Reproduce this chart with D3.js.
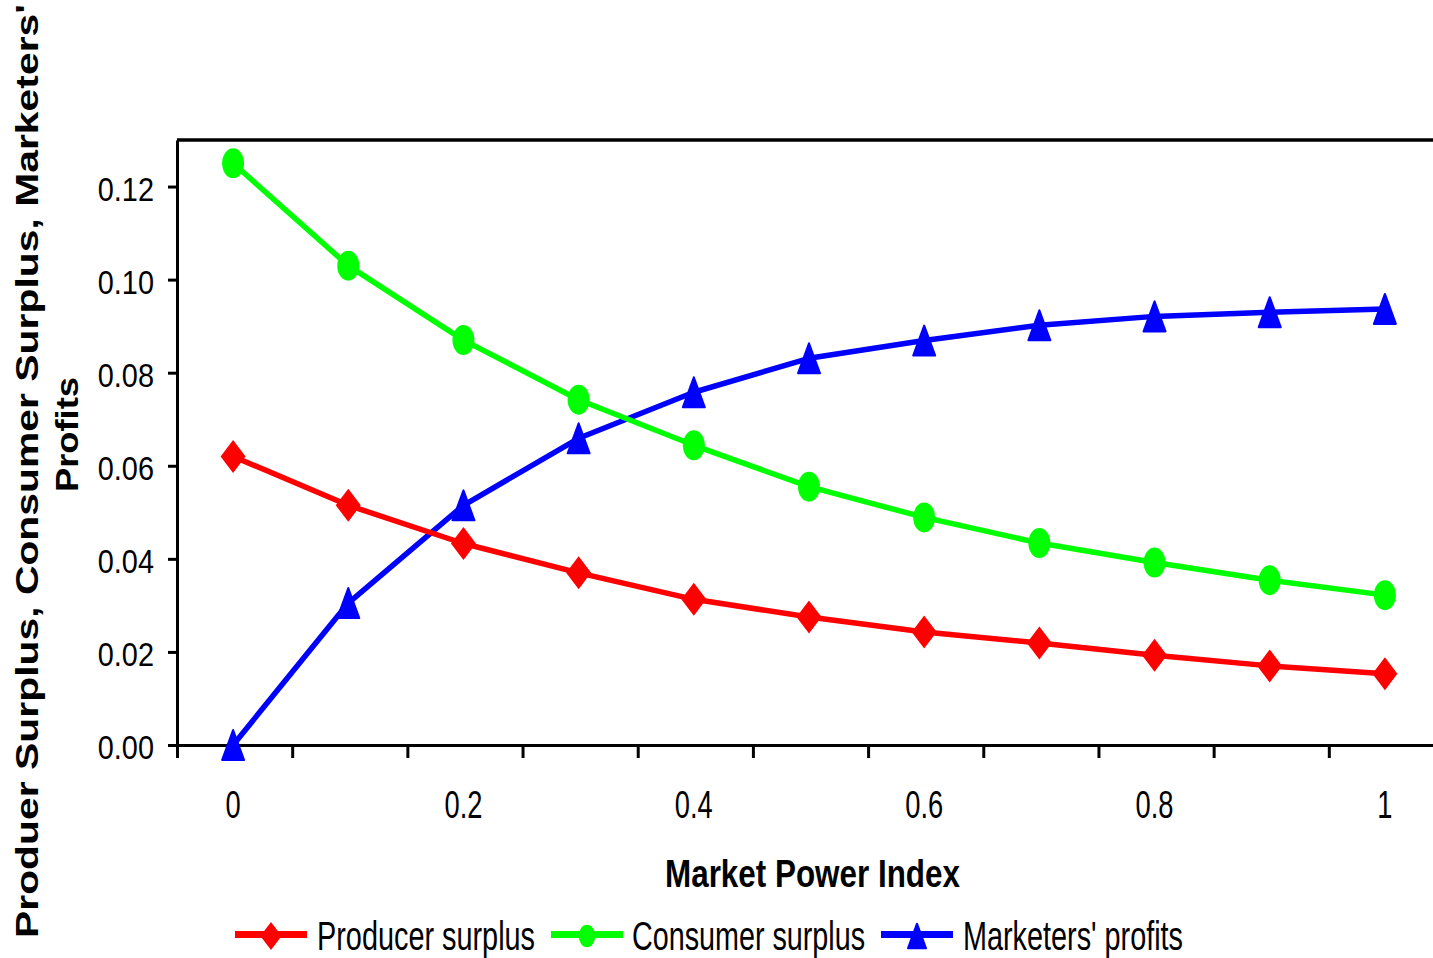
<!DOCTYPE html>
<html>
<head>
<meta charset="utf-8">
<script src="https://cdn.jsdelivr.net/npm/d3@7"></script>
<style>
  body { margin: 0; background: #fff; }
  svg { display: block; }
  text { font-family: "Liberation Sans", Arial, sans-serif; fill: #000; }
</style>
</head>
<body>
<svg id="chart" width="1433" height="958"></svg>
<script>
// Market power index categories (x axis) and the labels shown under the axis
const categories = ["0", "0.1", "0.2", "0.3", "0.4", "0.5", "0.6", "0.7", "0.8", "0.9", "1"];
const xTickLabels = ["0", "0.2", "0.4", "0.6", "0.8", "1"];
const yTicks = [0, 0.02, 0.04, 0.06, 0.08, 0.10, 0.12];

// Welfare measures for each market power index value
const producerSurplus  = [0.0620, 0.0515, 0.0433, 0.0370, 0.0313, 0.0275, 0.0243, 0.0219, 0.0193, 0.0170, 0.0153];
const consumerSurplus  = [0.1250, 0.1030, 0.0870, 0.0742, 0.0644, 0.0555, 0.0489, 0.0434, 0.0392, 0.0354, 0.0322];
const marketersProfits = [0.0000, 0.0305, 0.0515, 0.0659, 0.0758, 0.0831, 0.0869, 0.0902, 0.0921, 0.0930, 0.0937];

const seriesNames = ["Producer surplus", "Consumer surplus", "Marketers' profits"];

(function () {
  const svg = d3.select("#chart");
  svg.append("rect").attr("width", 1433).attr("height", 958).attr("fill", "#fff");

  const plotLeft = 177, plotRight = 1444, plotTop = 140, plotBottom = 745;

  const x = d3.scaleBand().domain(categories).range([plotLeft, plotRight]);
  const cx = c => x(c) + x.bandwidth() / 2 - 1.5;
  const xEdges = d3.scaleLinear().domain([0, categories.length]).range([plotLeft, plotRight]);
  const y = d3.scaleLinear().domain([0, 0.13]).range([plotBottom, plotTop]);

  // Top frame line of the plot area
  svg.append("line")
    .attr("x1", plotLeft).attr("x2", plotRight)
    .attr("y1", y(0.13)).attr("y2", y(0.13))
    .attr("stroke", "#000").attr("stroke-width", 3.5);

  // Y axis
  const yAxis = svg.append("g")
    .attr("transform", `translate(${plotLeft},0)`)
    .call(d3.axisLeft(y).tickValues(yTicks).tickSize(9).tickSizeOuter(0).tickFormat(""));
  yAxis.selectAll("path, line").attr("stroke", "#000").attr("stroke-width", 3);

  // X axis: tick marks sit on the category boundaries
  const xAxis = svg.append("g")
    .attr("transform", `translate(0,${plotBottom})`)
    .call(d3.axisBottom(xEdges).tickValues(d3.range(categories.length + 1)).tickSize(13).tickSizeOuter(0).tickFormat(""));
  xAxis.selectAll("path, line").attr("stroke", "#000").attr("stroke-width", 3);

  // Tick labels (narrow face)
  svg.append("g").selectAll("text")
    .data(yTicks).join("text")
    .attr("transform", d => `translate(154,${y(d) + 14}) scale(0.85,1)`)
    .attr("text-anchor", "end")
    .attr("font-size", 34)
    .text(d => d3.format(".2f")(d));

  svg.append("g").selectAll("text")
    .data(xTickLabels).join("text")
    .attr("transform", d => `translate(${cx(d)},818) scale(0.7,1)`)
    .attr("text-anchor", "middle")
    .attr("font-size", 39)
    .text(d => d);

  // Axis titles
  svg.append("text")
    .attr("x", 665).attr("y", 887)
    .attr("font-size", 38).attr("font-weight", "bold")
    .attr("textLength", 295).attr("lengthAdjust", "spacingAndGlyphs")
    .text("Market Power Index");

  svg.append("text")
    .attr("transform", "translate(38,938) rotate(-90)")
    .attr("font-size", 31.5).attr("font-weight", "bold")
    .attr("textLength", 934).attr("lengthAdjust", "spacingAndGlyphs")
    .text("Produer Surplus, Consumer Surplus, Marketers'");

  svg.append("text")
    .attr("transform", "translate(78,492) rotate(-90)")
    .attr("font-size", 31.5).attr("font-weight", "bold")
    .attr("textLength", 115).attr("lengthAdjust", "spacingAndGlyphs")
    .text("Profits");

  // Marker shapes
  const diamond = (w, h) => `M0,${-h}L${w},0L0,${h}L${-w},0Z`;
  const triangle = (w, h) => `M0,${-h}L${w},${h}L${-w},${h}Z`;

  function drawMarker(g, kind, color, scale) {
    const s = scale || 1;
    if (kind === "diamond") {
      g.append("path").attr("d", diamond(12.5 * s, 16.5 * s)).attr("fill", color);
    } else if (kind === "circle") {
      g.append("ellipse").attr("rx", 11 * s).attr("ry", 15 * s).attr("fill", color);
    } else {
      g.append("path").attr("d", triangle(11 * s, 15 * s))
        .attr("fill", color).attr("stroke", color).attr("stroke-width", 2).attr("stroke-linejoin", "round");
    }
  }

  const series = [
    { values: marketersProfits, color: "#0000ff", marker: "triangle" },
    { values: consumerSurplus,  color: "#00ff00", marker: "circle" },
    { values: producerSurplus,  color: "#ff0000", marker: "diamond" }
  ];

  const line = d3.line().x(d => cx(d.c)).y(d => y(d.v));

  series.forEach(s => {
    const pts = categories.map((c, i) => ({ c, v: s.values[i] }));
    svg.append("path")
      .datum(pts)
      .attr("d", line)
      .attr("fill", "none")
      .attr("stroke", s.color)
      .attr("stroke-width", 5.5)
      .attr("stroke-linejoin", "round");
    const mg = svg.append("g");
    pts.forEach(p => {
      const g = mg.append("g").attr("transform", `translate(${cx(p.c)},${y(p.v)})`);
      drawMarker(g, s.marker, s.color);
    });
  });

  // Legend
  const legendItems = [
    { name: seriesNames[0], color: "#ff0000", marker: "diamond",  x0: 235, x1: 307, tx: 317, tw: 218, ms: 0.85 },
    { name: seriesNames[1], color: "#00ff00", marker: "circle",   x0: 551, x1: 623, tx: 632, tw: 233, ms: 0.75 },
    { name: seriesNames[2], color: "#0000ff", marker: "triangle", x0: 881, x1: 953, tx: 963, tw: 220, ms: 0.82 }
  ];
  const legend = svg.append("g");
  legendItems.forEach(it => {
    legend.append("line")
      .attr("x1", it.x0).attr("x2", it.x1).attr("y1", 934.5).attr("y2", 934.5)
      .attr("stroke", it.color).attr("stroke-width", 7);
    const g = legend.append("g").attr("transform", `translate(${(it.x0 + it.x1) / 2},936)`);
    drawMarker(g, it.marker, it.color, it.ms);
    legend.append("text")
      .attr("x", it.tx).attr("y", 950)
      .attr("font-size", 41.5)
      .attr("textLength", it.tw).attr("lengthAdjust", "spacingAndGlyphs")
      .text(it.name);
  });
})();
</script>
</body>
</html>
